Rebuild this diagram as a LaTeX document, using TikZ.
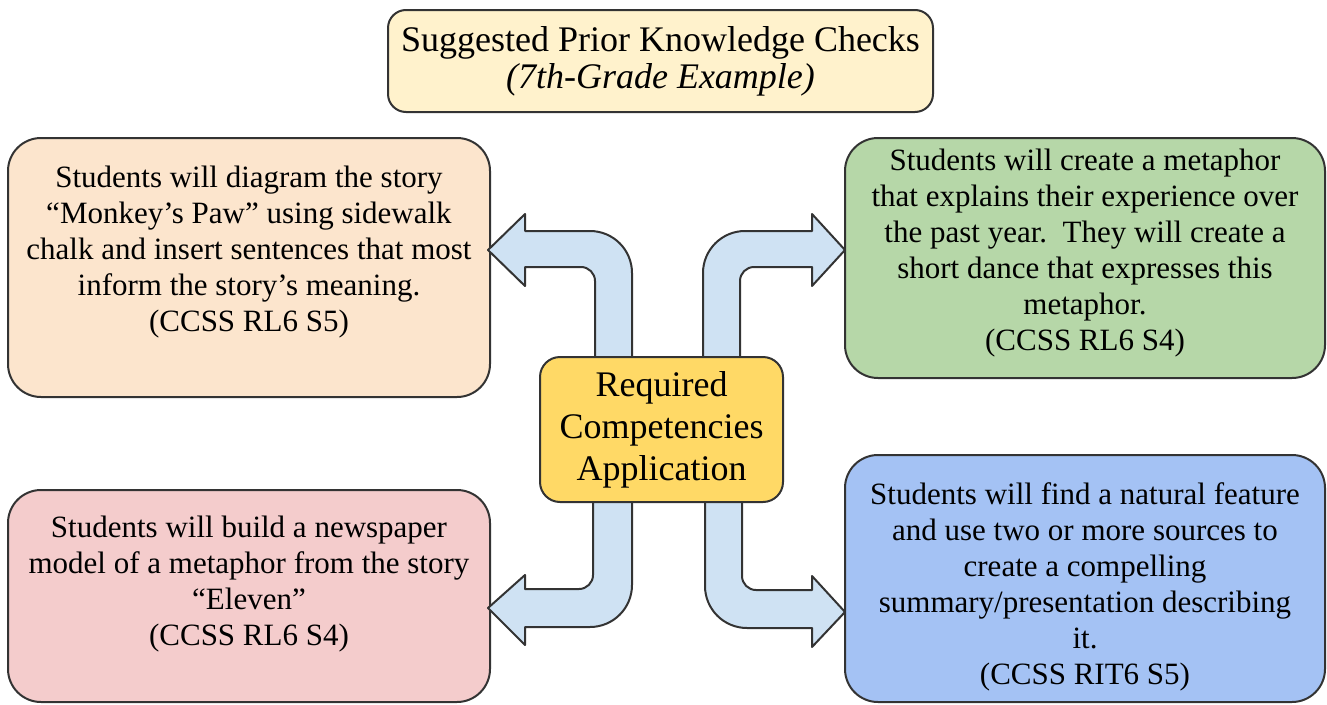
\documentclass[tikz,border=0pt]{standalone}
\usepackage{fontspec}
\setmainfont{LiberationSerif}[Extension=.ttf, UprightFont=*-Regular, ItalicFont=*-Italic, BoldFont=*-Bold, BoldItalicFont=*-BoldItalic]
\usepackage{tikz}
\definecolor{edgegray}{HTML}{333333}
\definecolor{titleyellow}{HTML}{FFF2CC}
\definecolor{peach}{HTML}{FCE5CD}
\definecolor{sage}{HTML}{B6D7A8}
\definecolor{rose}{HTML}{F4CCCC}
\definecolor{sky}{HTML}{A4C2F4}
\definecolor{gold}{HTML}{FFD966}
\definecolor{arrowblue}{HTML}{CFE2F3}

\begin{document}
\begin{tikzpicture} [
    x=1pt, y=-1pt,
    box/.style = {draw=edgegray, line width=2pt, rounded corners=33pt},
    words/.style = {align=center, inner sep=0pt, font=\rmfamily\fontsize{31}{36}\selectfont},
    bigarrow/.style = {draw=edgegray, line width=2pt, fill=arrowblue, line join=round}
]
    \useasboundingbox (0,0) rectangle (1327,704);

    % title
    \node [box, rounded corners=18pt, fill=titleyellow, minimum width=545pt, minimum height=102pt] (title) at (660.5,61) {};
    \node [words, font=\rmfamily\fontsize{36}{37}\selectfont] (titletext) at (title) {Suggested Prior Knowledge Checks\\ \textit{(7th-Grade Example)}};

    % four activities
    \node [box, fill=peach, minimum width=482pt, minimum height=259pt] (monkey) at (249,267.5) {};
    \node [words] (monkeytext) at ([yshift=15pt]monkey.center) {Students will diagram the story\\ “Monkey’s Paw” using sidewalk\\ chalk and insert sentences that most\\ inform the story’s meaning.\\ (CCSS RL6 S5)};

    \node [box, fill=sage, minimum width=480pt, minimum height=240pt] (dance) at (1085,258) {};
    \node [words] (dancetext) at ([yshift=5pt]dance.center) {Students will create a metaphor\\ that explains their experience over\\ the past year.\ \ They will create a\\ short dance that expresses this\\ metaphor.\\ (CCSS RL6 S4)};

    \node [box, fill=rose, minimum width=482pt, minimum height=212pt] (eleven) at (249,596) {};
    \node [words] (eleventext) at ([yshift=12pt]eleven.center) {Students will build a newspaper\\ model of a metaphor from the story\\ “Eleven”\\ (CCSS RL6 S4)};

    \node [box, fill=sky, minimum width=480pt, minimum height=247pt] (feature) at (1085,578.5) {};
    \node [words] (featuretext) at ([yshift=-8pt]feature.center) {Students will find a natural feature\\ and use two or more sources to\\ create a compelling\\ summary/presentation describing\\ it.\\ (CCSS RIT6 S5)};

    % bent arrows out of the hub
    \draw [bigarrow] (632,372) -- (632,273) arc[start angle=0, end angle=-90, radius=42] -- (525,231) -- (525,214) -- (488,250) -- (525,286) -- (525,267) -- (581,267) arc[start angle=-90, end angle=0, radius=14] -- (595,372) -- cycle;
    \draw [bigarrow] (703,372) -- (703,273) arc[start angle=180, end angle=270, radius=42] -- (812,231) -- (812,214) -- (845,250) -- (812,286) -- (812,267) -- (754,267) arc[start angle=270, end angle=180, radius=14] -- (740,372) -- cycle;
    \draw [bigarrow] (632,490) -- (632,585) arc[start angle=0, end angle=90, radius=42] -- (525,627) -- (525,645) -- (488,608) -- (525,575) -- (525,589) -- (579,589) arc[start angle=90, end angle=0, radius=14] -- (593,490) -- cycle;
    \draw [bigarrow] (705,490) -- (705,586) arc[start angle=180, end angle=90, radius=42] -- (812,628) -- (812,647) -- (845,612) -- (812,576) -- (812,590) -- (756,590) arc[start angle=90, end angle=180, radius=14] -- (742,490) -- cycle;

    % hub
    \node [box, rounded corners=20pt, fill=gold, minimum width=243pt, minimum height=145pt] (hub) at (661.5,429.5) {};
    \node [words, font=\rmfamily\fontsize{36}{42}\selectfont] (hubtext) at (hub) {Required\\ Competencies\\ Application};
\end{tikzpicture}
\end{document}
